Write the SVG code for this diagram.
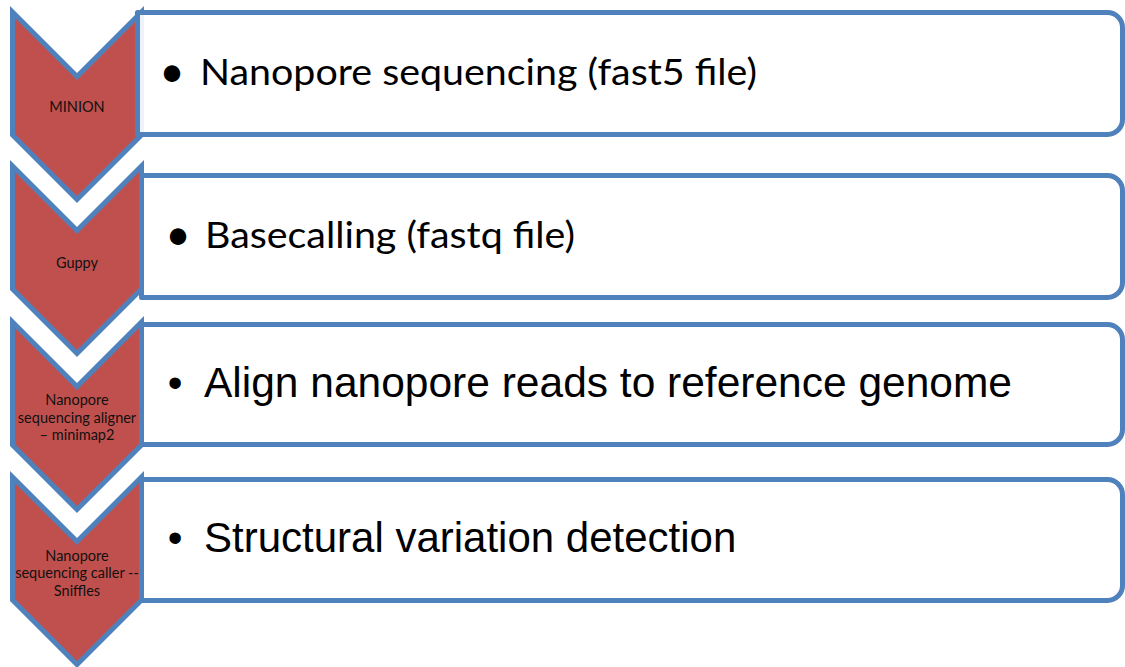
<svg xmlns="http://www.w3.org/2000/svg" width="1125" height="667" viewBox="0 0 1125 667">
<style>
.chev{fill:#C0504D;stroke:#4F81BD;stroke-width:5;stroke-linejoin:miter}
.box{fill:#FFFFFF;fill-opacity:0.9;stroke:#4F81BD;stroke-width:5;stroke-linejoin:round}
.lbl{font-family:Lato,"Open Sans",sans-serif;font-size:14.5px;fill:#111;text-anchor:middle}
.c{font-family:Lato,"Open Sans",sans-serif;font-size:36px;fill:#000}
.cb{font-family:Lato,"Open Sans",sans-serif;font-size:44px;fill:#000;text-anchor:middle}
.a{font-family:"Liberation Sans",Arial,sans-serif;font-size:42px;fill:#000}
.bul{text-anchor:middle}
</style>
<rect width="1125" height="667" fill="#FFFFFF"/>
<g id="connectors"/>
<g id="step4">
<path class="box" d="M141.5,479.5 H1107.5 A15,15 0 0 1 1122.5,494.5 V585.5 A15,15 0 0 1 1107.5,600.5 H141.5 Z"/>
<path class="chev" d="M12.5,477 L77,541.5 L141.5,477 V600 L77,664.5 L12.5,600 Z"/>
<text class="lbl" x="77" y="561">Nanopore</text>
<text class="lbl" x="77" y="578">sequencing caller --</text>
<text class="lbl" x="77" y="596">Sniffles</text>
<text class="a bul" x="175" y="552">•</text>
<text class="a" x="204" y="552">Structural variation detection</text>
</g>
<g id="step3">
<path class="box" d="M141.5,324.5 H1107.5 A15,15 0 0 1 1122.5,339.5 V429.5 A15,15 0 0 1 1107.5,444.5 H141.5 Z"/>
<path class="chev" d="M12.5,322 L77,386.5 L141.5,322 V445 L77,509.5 L12.5,445 Z"/>
<text class="lbl" x="77" y="405">Nanopore</text>
<text class="lbl" x="77" y="423">sequencing aligner</text>
<text class="lbl" x="77" y="440">– minimap2</text>
<text class="a bul" x="175" y="397">•</text>
<text class="a" x="204" y="397" textLength="808" lengthAdjust="spacingAndGlyphs">Align nanopore reads to reference genome</text>
</g>
<g id="step2">
<path class="box" d="M141.5,175.5 H1107.5 A15,15 0 0 1 1122.5,190.5 V282.5 A15,15 0 0 1 1107.5,297.5 H141.5 Z"/>
<path class="chev" d="M12.5,166 L77,230.5 L141.5,166 V289 L77,353.5 L12.5,289 Z"/>
<text class="lbl" x="77" y="268">Guppy</text>
<text class="cb" x="178" y="250">•</text>
<text class="c" x="205" y="248" textLength="370" lengthAdjust="spacingAndGlyphs">Basecalling (fastq file)</text>
</g>
<g id="step1">
<path class="chev" d="M12.5,12 L77,76.5 L141.5,12 V135 L77,199.5 L12.5,135 Z"/>
<path class="box" d="M137.5,12.5 H1107.5 A15,15 0 0 1 1122.5,27.5 V119.5 A15,15 0 0 1 1107.5,134.5 H137.5 Z"/>
<text class="lbl" x="77" y="112">MINION</text>
<text class="cb" x="172" y="87">•</text>
<text class="c" x="200" y="85" textLength="557" lengthAdjust="spacingAndGlyphs">Nanopore sequencing (fast5 file)</text>
</g>
</svg>
